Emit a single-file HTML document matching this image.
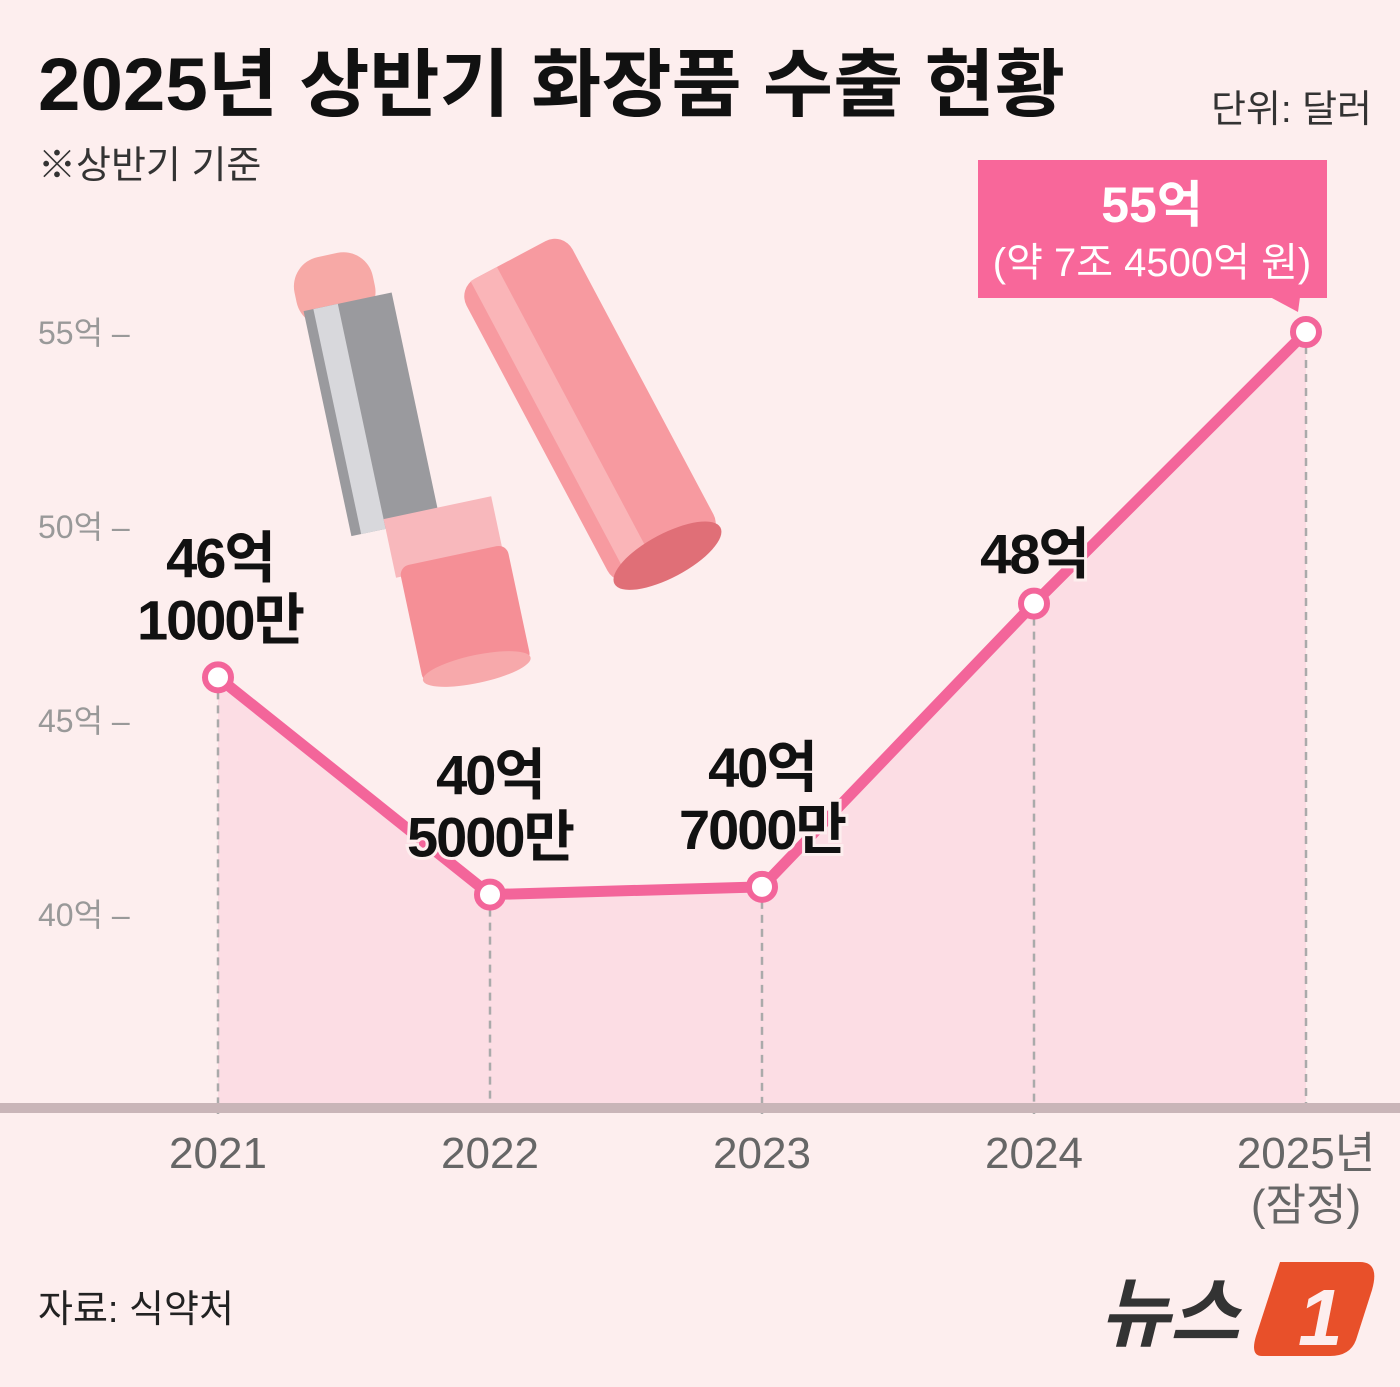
<!DOCTYPE html>
<html><head><meta charset="utf-8"><style>
body{margin:0;width:1400px;height:1387px;background:#fdeeee;overflow:hidden;font-family:"Liberation Sans","Noto Sans CJK KR",sans-serif;}
svg{display:block}
</style></head><body>
<svg width="1400" height="1387" viewBox="0 0 1400 1387">
<rect width="1400" height="1387" fill="#fdeeee"/>
<text x="38" y="110" font-size="74" font-weight="bold" fill="#111" textLength="1027" lengthAdjust="spacingAndGlyphs">2025년 상반기 화장품 수출 현황</text>
<text x="1372" y="122" font-size="38" fill="#333" text-anchor="end">단위: 달러</text>
<text x="38" y="178" font-size="38" fill="#333">※상반기 기준</text>
<g id="fill"></g>
<g id="grid"></g>
<rect x="0" y="1103" width="1400" height="10" fill="#c9b5b8"/>
<g id="yaxis"></g>
<g id="xaxis"></g>
<g>
<g transform="rotate(-12 420 450)">
<rect x="330" y="240" width="80" height="70" rx="30" fill="#f7a9a6"/>
<rect x="335" y="290" width="90" height="230" fill="#9a9a9e"/>
<rect x="345" y="290" width="25" height="230" fill="#d8d8dc"/>
<rect x="370" y="510" width="110" height="60" fill="#f8b8bc"/>
<rect x="375" y="560" width="110" height="120" rx="10" fill="#f58f96"/>
<ellipse cx="430" cy="676" rx="55" ry="14" fill="#f7a9ab"/>
</g>
<g transform="rotate(-28 590 410)">
<rect x="530" y="240" width="120" height="340" rx="20" fill="#f79aa0"/>
<rect x="545" y="240" width="30" height="340" fill="#fbc0c2" opacity=".7"/>
<ellipse cx="590" cy="575" rx="60" ry="22" fill="#e06f77"/>
</g>
</g>
<path id="line" fill="none" stroke="#f3659a" stroke-width="11" stroke-linejoin="round"/>
<g id="points"></g>
<g id="labels"></g>
<g>
<rect x="978" y="160" width="349" height="138" fill="#f8679a"/>
<polygon points="1270,297 1300,297 1298,312" fill="#f8679a"/>
<text x="1152" y="222" font-size="50" font-weight="bold" fill="#fff" text-anchor="middle">55억</text>
<text x="1152" y="276" font-size="40" fill="#fff" text-anchor="middle">(약 7조 4500억 원)</text>
</g>
<text x="38" y="1322" font-size="38" fill="#222">자료: 식약처</text>
<g>
<text x="1100" y="1340" font-size="76" font-weight="bold" font-style="italic" fill="#333">뉴스</text>
<path d="M1280,1262 L1360,1262 Q1380,1262 1372,1290 L1356,1340 Q1350,1356 1330,1356 L1262,1356 Q1250,1356 1256,1336 Z" fill="#e8502a"/>
<text x="1298" y="1345" font-size="80" font-weight="bold" font-style="italic" fill="#fdeeee">1</text>
</g>
</svg>
<script>
const years=["2021","2022","2023","2024","2025년"];
const values=[46.1,40.5,40.7,48,55];
const yTicks=[40,45,50,55];
const valLabels=[["46억","1000만"],["40억","5000만"],["40억","7000만"],["48억"],null];
const NS="http://www.w3.org/2000/svg";
const X=i=>218+i*272;
const Y=v=>914-(v-40)*38.8;
const base=1106;
function mk(t,a,p){const e=document.createElementNS(NS,t);for(const k in a)e.setAttribute(k,a[k]);p.appendChild(e);return e;}
let d="",fd=`M${X(0)},${base}`;
values.forEach((v,i)=>{d+=(i?"L":"M")+X(i)+","+Y(v);fd+=`L${X(i)},${Y(v)}`;});
fd+=`L${X(values.length-1)},${base}Z`;
document.getElementById('line').setAttribute('d',d);
const fp=mk('path',{d:fd,fill:'#fcdde4'},document.getElementById('fill'));


const g=document.getElementById('grid');
values.forEach((v,i)=>{const l=mk('line',{x1:X(i),x2:X(i),y1:Y(v),y2:base+8,stroke:'#aaa','stroke-width':2.5,'stroke-dasharray':'8 6'},g);

});
const ya=document.getElementById('yaxis');
yTicks.forEach(t=>{const tx=mk('text',{x:38,y:Y(t)+12,'font-size':32,fill:'#999'},ya);tx.textContent=t+"억 –";

});
const xa=document.getElementById('xaxis');
years.forEach((y,i)=>{const tx=mk('text',{x:X(i),y:1168,'font-size':44,fill:'#666','text-anchor':'middle'},xa);tx.textContent=y;

});
const s=mk('text',{x:X(4),y:1220,'font-size':44,fill:'#666','text-anchor':'middle'},xa);s.textContent="(잠정)";


const pg=document.getElementById('points');
values.forEach((v,i)=>{const c=mk('circle',{cx:X(i),cy:Y(v),r:13,fill:'#fff',stroke:'#f3659a','stroke-width':6},pg);

});
const lg=document.getElementById('labels');
valLabels.forEach((lb,i)=>{if(!lb)return;const n=lb.length;const top=Y(values[i])-(n===2?100:30);
lb.forEach((s,k)=>{const tx=mk('text',{x:X(i)+(i===0?2:0),y:top+k*62,'font-size':56,'font-weight':'bold',fill:'#111','text-anchor':'middle',stroke:'#fdeeee','stroke-width':6,'paint-order':'stroke','letter-spacing':-2},lg);tx.textContent=s;

});});
</script>
</body></html>
